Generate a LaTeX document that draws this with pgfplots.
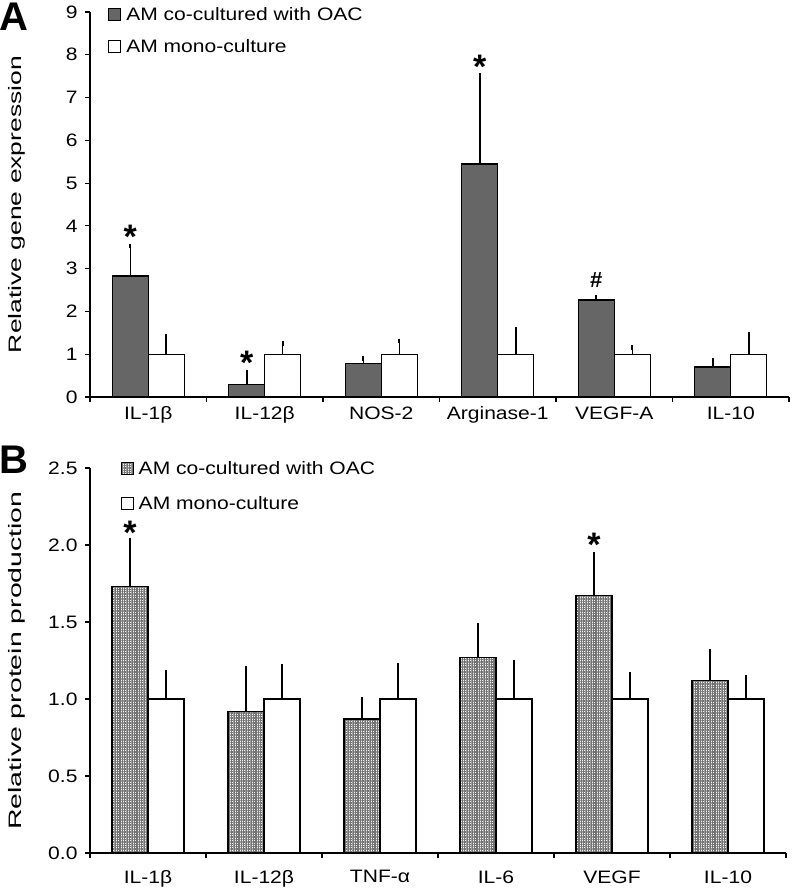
\documentclass[border=0pt]{standalone}
\usepackage{pgfplots}
\pgfplotsset{compat=1.18}
\usepackage{fontspec}
\setmainfont{Liberation Sans}
\newfontfamily\tickfont{Liberation Sans}[FakeStretch=1.17]
\newfontfamily\ylabA{Liberation Sans}[FakeStretch=1.47]
\newfontfamily\ylabB{Liberation Sans}[FakeStretch=1.58]
\usetikzlibrary{patterns.meta}
\definecolor{darkbar}{RGB}{102,102,102}
\newcommand{\lblfont}{\tickfont\fontsize{18bp}{21bp}\selectfont}
\begin{document}
\begin{tikzpicture}
\useasboundingbox (0,0) rectangle (792bp,892bp);
\pgfplotsset{
  myaxis/.style={
    scale only axis, xmin=-0.5, xmax=5.5, ymin=0,
    axis x line*=bottom, axis y line*=left,
    axis line style={-, line width=1.2bp, black},
    tick align=outside, major tick length=5bp,
    xtick={-0.5,0.5,...,5.5}, xticklabels={},
    extra x ticks={0,1,2,3,4,5},
    every tick/.style={black, line width=1.2bp},
    tick label style={font=\lblfont, black},
    yticklabel style={xshift=-4bp},
    label style={black},
    /pgf/number format/assume math mode=true,
    legend style={draw=none, fill=none, font=\lblfont, anchor=west,
      inner sep=0pt, column sep=3bp},
    legend cell align=left,
    clip=false,
  },
  errs/.style={error bars/y dir=plus, error bars/y explicit, error bars/error mark=-,
    error bars/error bar style={line width=1.5bp, black},
    error bars/error mark options={line width=1.6bp, mark size=2.4bp, black}},
  sqleg/.style={legend image code/.code={\draw[##1, line width=0.9bp] (0bp,-6bp) rectangle (12bp,6bp);}},
  barbase/.style={ybar, bar width=36bp, bar shift=0pt, draw=black, line width=1.3bp, sqleg, errs},
  starplot/.style={only marks, mark=none, forget plot, nodes near coords={#1},
    nodes near coords style={anchor=center, font=\fontsize{34bp}{34bp}\selectfont\bfseries, black}},
}
% Panel A
\begin{axis}[myaxis, at={(90bp,495bp)}, anchor=south west,
  width=699bp, height=385bp, ymax=9, ytick={0,1,...,9},
  extra x tick labels={IL-1β,IL-12β,NOS-2,Arginase-1,VEGF-A,IL-10},
  extra x tick style={major tick length=0pt, tick style={draw=none}, xticklabel style={yshift=-6bp}},
  ylabel={Relative gene expression},
  ylabel style={at={(axis description cs:-0.104,0.5)}, anchor=center, font=\ylabA\fontsize{18bp}{21bp}\selectfont},
  legend style={at={(axis description cs:0.026,0.952)}, row sep=13bp},
]
\addplot[barbase, fill=darkbar]
  coordinates {(-0.1545,2.83) +- (0,0.70) (0.8455,0.30) +- (0,0.27) (1.8455,0.78) +- (0,0.12)
               (2.8455,5.45) +- (0,2.07) (3.8455,2.27) +- (0,0.06) (4.8455,0.70) +- (0,0.15)};
\addlegendentry{AM co-cultured with OAC}
\addplot[barbase, fill=white]
  coordinates {(0.1545,1) +- (0,0.41) (1.1545,1) +- (0,0.25) (2.1545,1) +- (0,0.31)
               (3.1545,1) +- (0,0.57) (4.1545,1) +- (0,0.16) (5.1545,1) +- (0,0.46)};
\addlegendentry{AM mono-culture}
\addplot[starplot={*}] coordinates {(-0.1545,3.75) (0.8455,0.79) (2.8455,7.72)};
\addplot[only marks, mark=none, forget plot, nodes near coords={\#},
  nodes near coords style={anchor=center, font=\fontsize{22bp}{22bp}\selectfont\bfseries, black}]
  coordinates {(3.8455,2.73)};
\end{axis}
% Panel B
\begin{axis}[myaxis, at={(90bp,39bp)}, anchor=south west,
  width=696bp, height=385bp, ymax=2.5, ytick={0,0.5,...,2.5},
  yticklabel style={/pgf/number format/.cd, fixed, fixed zerofill, precision=1},
  extra x tick labels={IL-1β,IL-12β,TNF-α,IL-6,VEGF,IL-10},
  extra x tick style={major tick length=0pt, tick style={draw=none}, xticklabel style={yshift=-14bp}},
  ylabel={Relative protein production},
  ylabel style={at={(axis description cs:-0.105,0.5)}, anchor=center, font=\ylabB\fontsize{18bp}{21bp}\selectfont},
  legend style={at={(axis description cs:0.044,0.953)}, row sep=17bp},
]
\addplot[barbase, preaction={fill=gray!10}, pattern={Hatch[angle=0,distance=1.7bp,line width=0.5bp]},
  pattern color=black!55]
  coordinates {(-0.155,1.73) +- (0,0.30) (0.845,0.92) +- (0,0.28) (1.845,0.87) +- (0,0.13)
               (2.845,1.27) +- (0,0.21) (3.845,1.67) +- (0,0.27) (4.845,1.12) +- (0,0.19)};
\addlegendentry{AM co-cultured with OAC}
\addplot[barbase, fill=white]
  coordinates {(0.155,1) +- (0,0.17) (1.155,1) +- (0,0.21) (2.155,1) +- (0,0.22)
               (3.155,1) +- (0,0.24) (4.155,1) +- (0,0.16) (5.155,1) +- (0,0.14)};
\addlegendentry{AM mono-culture}
\addplot[starplot={*}] coordinates {(-0.155,2.08) (3.845,2.0)};
\end{axis}
\node[font=\fontsize{40bp}{40bp}\selectfont\bfseries] at (14bp,875bp) {A};
\node[font=\fontsize{40bp}{40bp}\selectfont\bfseries] at (14bp,432bp) {B};
\end{tikzpicture}
\end{document}
